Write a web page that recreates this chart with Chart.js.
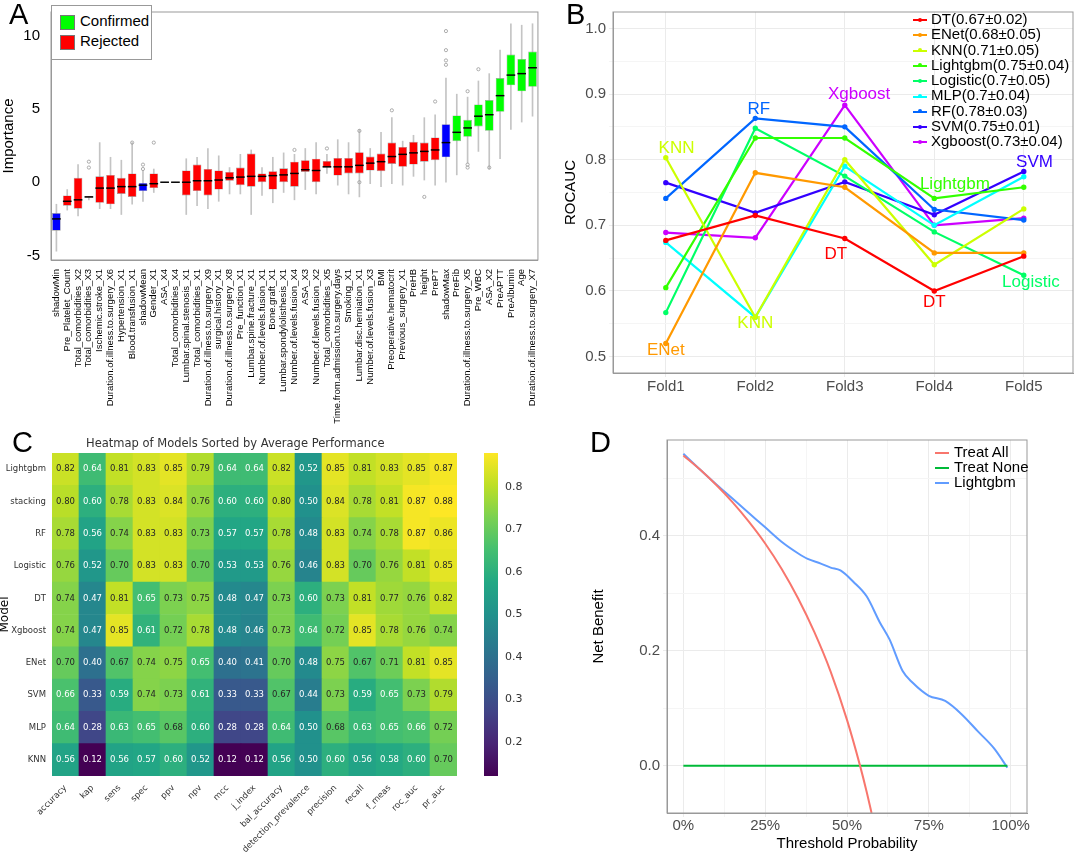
<!DOCTYPE html>
<html>
<head>
<meta charset="utf-8">
<script src="https://cdn.jsdelivr.net/npm/chart.js@4.4.1/dist/chart.umd.min.js"></script>
<style>
body { margin:0; width:1080px; height:853px; background:#fff; position:relative; overflow:hidden; font-family:"Liberation Sans", Arial, sans-serif; }
canvas { position:absolute; }
.letter { position:absolute; font-size:29px; color:#000; }
.leg { position:absolute; font-size:15px; line-height:15.3px; color:#000; }
.leg .row { white-space:nowrap; }
.sw { display:inline-block; vertical-align:middle; }
</style>
</head>
<body>
<canvas id="chartA" style="left:0;top:0" width="545" height="440"></canvas>
<canvas id="chartB" style="left:560px;top:0" width="520" height="410"></canvas>
<canvas id="chartC" style="left:-2px;top:420px" width="582" height="433"></canvas>
<canvas id="chartBar" style="left:470px;top:420px" width="110" height="433"></canvas>
<canvas id="chartD" style="left:590px;top:420px" width="490" height="433"></canvas>

<div class="letter" style="left:9px;top:-2px">A</div>
<div class="letter" style="left:566px;top:-2px">B</div>
<div class="letter" style="left:12px;top:426px">C</div>
<div class="letter" style="left:590px;top:426px">D</div>

<div style="position:absolute;left:51px;top:5px;width:101px;height:55px;border:1px solid #999;background:#fff;font-size:15px;line-height:20px;padding-top:5px;box-sizing:border-box">
  <div style="padding-left:8px"><span class="sw" style="width:13px;height:13px;background:#00ff00;border:1px solid #777;margin-right:5px"></span>Confirmed</div>
  <div style="padding-left:8px"><span class="sw" style="width:13px;height:13px;background:#ff0000;border:1px solid #777;margin-right:5px"></span>Rejected</div>
</div>
<div id="legB" class="leg" style="left:913px;top:11px"></div>
<div id="legD" class="leg" style="left:935px;top:444px;line-height:15px"></div>
<div style="position:absolute;left:86px;top:436px;font-family:'DejaVu Sans',sans-serif;font-size:11.5px;color:#333">Heatmap of Models Sorted by Average Performance</div>

<script>
// ---------- Panel A: Boruta feature importance ----------
const features = ["shadowMin","Pre_Platelet_Count","Total_comorbidities_X2","Total_comorbidities_X3","Ischemic.stroke_X1","Duration.of.illness.to.surgery_X6","Hypertension_X1","Blood.transfusion_X1","shadowMean","Gender_X1","ASA_X4","Total_comorbidities_X4","Lumbar.spinal.stenosis_X1","Total_comorbidities_X1","Duration.of.illness.to.surgery_X9","surgical.history_X1","Duration.of.illness.to.surgery_X8","Pre_function_X1","Lumbar.spine.fracture_X1","Number.of.levels.fusion_X1","Bone.graft_X1","Lumbar.spondylolisthesis_X1","Number.of.levels.fusion_X4","ASA_X3","Number.of.levels.fusion_X2","Total_comorbidities_X5","Time.from.admission.to.surgery.days","Smoking_X1","Lumbar.disc.herniation_X1","Number.of.levels.fusion_X3","BMI","Preoperative.hematocrit","Previous_surgery_X1","PreHB","height","PrePT","shadowMax","PreFib","Duration.of.illness.to.surgery_X5","Pre_WBC","ASA_X2","PreAPTT","PreAlbumin","Age","Duration.of.illness.to.surgery_X7"];
const featStatus = ["S","R","R","R","R","R","R","R","S","R","R","R","R","R","R","R","R","R","R","R","R","R","R","R","R","R","R","R","R","R","R","R","R","R","R","R","S","C","C","C","C","C","C","C","C"];
const boxQ1  = [-3.3,-1.6,-1.8,-1.05,-1.4,-1.5,-0.8,-1.0,-0.6,-0.4,-0.03,-0.03,-0.9,-0.6,-0.9,-0.5,0.1,-0.2,-0.3,0.0,-0.5,0.0,-0.3,0.7,0.0,1.0,0.45,0.6,0.6,0.8,0.75,1.25,1.05,1.2,1.4,1.5,1.7,2.8,3.1,3.8,3.5,4.8,6.6,6.2,6.5];
const boxMed = [-2.5,-1.3,-1.2,-1.0,-0.4,-0.4,-0.3,-0.3,-0.2,-0.1,0.0,0.0,0.0,0.1,0.1,0.15,0.3,0.35,0.4,0.4,0.45,0.5,0.6,0.85,0.8,1.05,1.05,1.05,1.15,1.3,1.4,1.75,1.9,2.0,2.1,2.2,2.7,3.4,3.7,4.5,4.6,5.9,7.3,7.4,7.8];
const boxQ3  = [-2.1,-0.9,0.3,-0.95,0.4,0.5,0.3,0.6,-0.05,0.6,0.03,0.03,0.8,1.2,0.9,0.8,0.7,1.0,1.95,0.6,0.75,0.95,1.4,1.5,1.6,1.45,1.65,1.65,2.05,1.75,1.95,2.7,2.4,2.75,2.7,3.05,3.95,4.55,4.25,5.3,5.6,7.1,8.7,8.4,8.9];
const boxMin = [-4.7,-1.9,-2.3,-1.2,-1.8,-1.8,-2.2,-1.5,-1.3,-0.7,0.0,0.0,-2.2,-1.6,-1.8,-1.3,-0.8,-0.8,-2.2,-0.9,-1.4,-0.7,-1.2,-0.5,-0.8,0.6,-0.2,-0.8,-1.0,-0.1,-0.3,-0.1,-0.2,0.4,0.15,-0.2,0.0,0.5,1.3,2.1,0.9,1.6,3.6,4.1,4.5];
const boxMax = [-1.5,-0.5,1.2,-1.0,2.7,1.7,1.5,2.7,0.8,0.9,0.0,0.0,1.6,1.7,2.3,1.8,1.0,1.9,2.2,1.0,1.7,2.0,1.9,2.3,2.7,1.9,2.9,2.7,3.6,2.3,3.4,4.4,2.8,3.2,4.4,4.6,7.1,6.0,5.8,6.9,7.4,9.0,10.8,10.7,10.8];
// a few outliers: [feature index, value]
const outliersA = [[3,1.0],[3,1.4],[8,0.9],[8,1.2],[7,2.7],[9,2.7],[22,2.2],[25,2.3],[28,0.0],[28,3.5],[31,4.9],[34,-1.0],[35,5.5],[36,8.0],[36,8.3],[36,9.0],[36,10.3],[38,6.2],[38,1.0],[38,1.2],[39,7.7],[40,1.0]];

const statusColor = { S:"#0000ff", R:"#ff0000", C:"#00ff00" };

new Chart(document.getElementById("chartA"), {
  type: "bar",
  data: {
    labels: features,
    datasets: [
      { type:"scatter", data: outliersA.map(o=>({x:features[o[0]], y:o[1]})), pointRadius:1.6, pointStyle:"circle",
        borderColor:"#999", backgroundColor:"rgba(0,0,0,0)", borderWidth:0.8, order:0 },
      { data: boxMin.map((v,i)=>[v, boxMax[i]]), backgroundColor:"#c4c4c4", barThickness:1, grouped:false, order:3 },
      { data: boxQ1.map((v,i)=>[v, boxQ3[i]]), backgroundColor: featStatus.map(s=>statusColor[s]), borderColor:"#999", borderWidth:0.6, borderSkipped:false, barPercentage:0.8, categoryPercentage:1, grouped:false, order:2 },
      { data: boxMed.map(v=>[v-0.05, v+0.05]), backgroundColor:"#000", barPercentage:0.8, categoryPercentage:1, grouped:false, order:1 }
    ]
  },
  options: {
    responsive:false, animation:false,
    layout: { padding: { left:0, top:5, right:7, bottom:0 } },
    plugins: { legend:{display:false}, tooltip:{enabled:false} },
    scales: {
      x: { type:"category", grid:{display:false}, border:{color:"#999"},
           ticks:{ autoSkip:false, minRotation:90, maxRotation:90, padding:1, font:{family:"Liberation Sans", size:9.5}, color:"#000" },
           afterFit: a => { a.height = 180; } },
      y: { min:-5.3, max:11.6, grid:{display:false}, border:{color:"#999"},
           afterBuildTicks: a => { a.ticks = [-5,0,5,10].map(v=>({value:v})); },
           ticks:{ font:{family:"Liberation Sans", size:15}, color:"#000" },
           title:{ display:true, text:"Importance", font:{family:"Liberation Sans", size:15}, color:"#000", padding:0 },
           afterFit: a => { a.width = 51; } }
    }
  },
  plugins: [{
    id:"frameA",
    afterDraw(c) { const a=c.chartArea, x=c.ctx; x.save(); x.strokeStyle="#999"; x.lineWidth=1; x.strokeRect(a.left, a.top, a.right-a.left, a.bottom-a.top); x.restore(); }
  }]
});

// ---------- Panel B: ROC AUC per fold ----------
const folds = ["Fold1","Fold2","Fold3","Fold4","Fold5"];
const modelsB = ["DT(0.67±0.02)","ENet(0.68±0.05)","KNN(0.71±0.05)","Lightgbm(0.75±0.04)","Logistic(0.7±0.05)","MLP(0.7±0.04)","RF(0.78±0.03)","SVM(0.75±0.01)","Xgboost(0.73±0.04)"];
const colorsB = ["#ff0000","#ff9900","#ccff00","#33ff00","#00ff66","#00ffff","#0066ff","#3300ff","#cc00ff"];
const aucDT   = [0.677,0.715,0.680,0.600,0.653];
const aucENet = [0.520,0.780,0.758,0.658,0.658];
const aucKNN  = [0.803,0.560,0.800,0.640,0.725];
const aucLgbm = [0.605,0.833,0.833,0.741,0.758];
const aucLog  = [0.567,0.848,0.775,0.690,0.624];
const aucMLP  = [0.674,0.560,0.790,0.700,0.774];
const aucRF   = [0.741,0.863,0.850,0.724,0.708];
const aucSVM  = [0.765,0.719,0.766,0.716,0.782];
const aucXgb  = [0.689,0.681,0.883,0.700,0.711];
const aucAll = [aucDT,aucENet,aucKNN,aucLgbm,aucLog,aucMLP,aucRF,aucSVM,aucXgb];
// on-plot labels: text, colour index, fold position, value
const labelsB = [["KNN",2,1.12,0.817],["RF",6,2.04,0.877],["Xgboost",8,3.16,0.900],["KNN",2,2.0,0.550],["ENet",1,1.0,0.510],["DT",0,2.9,0.656],["DT",0,4.0,0.583],["Lightgbm",3,4.23,0.762],["SVM",7,5.12,0.796],["Logistic",4,5.08,0.613]];

const gg = { family:"Liberation Sans", size:15 };
new Chart(document.getElementById("chartB"), {
  type: "line",
  data: {
    datasets: aucAll.map((arr,i)=>({
      label: modelsB[i], data: arr.map((v,j)=>({x:j+1, y:v})),
      borderColor: colorsB[i], backgroundColor: colorsB[i], borderWidth:2.2,
      pointRadius:1.6, tension:0
    }))
  },
  options: {
    responsive:false, animation:false,
    layout: { padding:{ left:0, top:10, right:7, bottom:0 } },
    plugins: { legend:{display:false}, tooltip:{enabled:false} },
    scales: {
      x: { type:"linear", min:0.41, max:5.55,
           afterBuildTicks: a => { a.ticks = [1,2,3,4,5].map(v=>({value:v})); },
           ticks:{ callback: v => folds[v-1], font:gg, color:"#4d4d4d", padding:1 },
           grid:{ color:"#ebebeb", tickLength:4 }, border:{color:"#999"},
           afterFit: a => { a.height = 37; } },
      y: { min:0.475, max:1.025,
           afterBuildTicks: a => { a.ticks = [0.5,0.55,0.6,0.65,0.7,0.75,0.8,0.85,0.9,0.95,1.0].map(v=>({value:v})); },
           ticks:{ callback: v => (Math.round(v*100)%10===0) ? v.toFixed(1) : "", font:gg, color:"#4d4d4d" },
           grid:{ color: c => (Math.round(c.tick.value*100)%10===0) ? "#ebebeb" : "#f5f5f5", tickLength:4 }, border:{color:"#999"},
           title:{ display:true, text:"ROCAUC", font:gg, color:"#000", padding:2 },
           afterFit: a => { a.width = 53; } }
    }
  },
  plugins: [{
    id:"labelsB",
    afterDatasetsDraw(c) {
      const x=c.ctx, sx=c.scales.x, sy=c.scales.y, a=c.chartArea;
      x.save();
      x.strokeStyle="#999"; x.strokeRect(a.left,a.top,a.right-a.left,a.bottom-a.top);
      x.font="17px Liberation Sans"; x.textAlign="center"; x.textBaseline="middle";
      labelsB.forEach(l => { x.fillStyle=colorsB[l[1]]; x.fillText(l[0], sx.getPixelForValue(l[2]), sy.getPixelForValue(l[3])); });
      x.restore();
    }
  }]
});
document.getElementById("legB").innerHTML = modelsB.map((m,i)=>
  `<div class="row"><span class="sw" style="width:14px;height:2px;background:${colorsB[i]};position:relative;margin-right:4px"><span style="position:absolute;left:5px;top:-1.5px;width:4px;height:4px;border-radius:2px;background:${colorsB[i]}"></span></span>${m}</div>`).join("");

// ---------- Panel C: heatmap ----------
const metrics = ["accuracy","kap","sens","spec","ppv","npv","mcc","j_index","bal_accuracy","detection_prevalence","precision","recall","f_meas","roc_auc","pr_auc"];
const modelsC = ["Lightgbm","stacking","RF","Logistic","DT","Xgboost","ENet","SVM","MLP","KNN"];
const hmLightgbm = [0.82,0.64,0.81,0.83,0.85,0.79,0.64,0.64,0.82,0.52,0.85,0.81,0.83,0.85,0.87];
const hmStacking = [0.80,0.60,0.78,0.83,0.84,0.76,0.60,0.60,0.80,0.50,0.84,0.78,0.81,0.87,0.88];
const hmRF       = [0.78,0.56,0.74,0.83,0.83,0.73,0.57,0.57,0.78,0.48,0.83,0.74,0.78,0.87,0.86];
const hmLogistic = [0.76,0.52,0.70,0.83,0.83,0.70,0.53,0.53,0.76,0.46,0.83,0.70,0.76,0.81,0.85];
const hmDT       = [0.74,0.47,0.81,0.65,0.73,0.75,0.48,0.47,0.73,0.60,0.73,0.81,0.77,0.76,0.82];
const hmXgboost  = [0.74,0.47,0.85,0.61,0.72,0.78,0.48,0.46,0.73,0.64,0.72,0.85,0.78,0.76,0.74];
const hmENet     = [0.70,0.40,0.67,0.74,0.75,0.65,0.40,0.41,0.70,0.48,0.75,0.67,0.71,0.81,0.85];
const hmSVM      = [0.66,0.33,0.59,0.74,0.73,0.61,0.33,0.33,0.67,0.44,0.73,0.59,0.65,0.73,0.79];
const hmMLP      = [0.64,0.28,0.63,0.65,0.68,0.60,0.28,0.28,0.64,0.50,0.68,0.63,0.65,0.66,0.72];
const hmKNN      = [0.56,0.12,0.56,0.57,0.60,0.52,0.12,0.12,0.56,0.50,0.60,0.56,0.58,0.60,0.70];
const hmRows = [hmLightgbm,hmStacking,hmRF,hmLogistic,hmDT,hmXgboost,hmENet,hmSVM,hmMLP,hmKNN];
const vmin = 0.12, vmax = 0.88;
const viridis = ["#440154","#482475","#414487","#355f8d","#2a788e","#21918c","#22a884","#44bf70","#7ad151","#bddf26","#fde725"];

function hex(h){ return [1,3,5].map(i=>parseInt(h.substr(i,2),16)); }
function viridisColor(v) {
  let t = Math.max(0, Math.min(1, (v-vmin)/(vmax-vmin))) * 10;
  const i = Math.min(9, Math.floor(t)), f = t - i;
  const a = hex(viridis[i]), b = hex(viridis[i+1]);
  return "rgb(" + a.map((c,k)=>Math.round(c+(b[k]-c)*f)).join(",") + ")";
}

const nRows = modelsC.length;
const smallFont = { family:"DejaVu Sans", size:8.5 };
new Chart(document.getElementById("chartC"), {
  type: "bar",
  data: {
    labels: metrics,
    // bottom of stack = last model, so the first model sits at the top
    datasets: hmRows.slice().reverse().map((row, k) => ({
      label: modelsC[nRows-1-k], data: row.map(()=>1), values: row,
      backgroundColor: row.map(viridisColor), borderWidth:0,
      barPercentage:1, categoryPercentage:1
    }))
  },
  options: {
    responsive:false, animation:false,
    layout: { padding:{ left:0, top:33, right:123, bottom:0 } },
    plugins: { legend:{display:false}, tooltip:{enabled:false} },
    scales: {
      x: { stacked:true, grid:{display:false, drawTicks:true, tickLength:4}, border:{display:false},
           ticks:{ autoSkip:false, minRotation:45, maxRotation:45, font:smallFont, color:"#333" },
           afterFit: a => { a.height = 77; } },
      y: { stacked:true, min:0, max:nRows, border:{display:false},
           grid:{ display:false, drawTicks:true, tickLength:4 },
           afterBuildTicks: a => { a.ticks = modelsC.map((m,i)=>({value:nRows-0.5-i})); },
           ticks:{ callback: v => modelsC[Math.round(nRows-0.5-v)], font:smallFont, color:"#333", padding:2 },
           title:{ display:true, text:"Model", font:{family:"DejaVu Sans", size:12}, color:"#000", padding:0 },
           afterFit: a => { a.width = 54; } }
    }
  },
  plugins: [{
    id:"cellText",
    afterDatasetsDraw(c) {
      const x=c.ctx; x.save();
      x.font="8.5px DejaVu Sans"; x.textAlign="center"; x.textBaseline="middle";
      c.data.datasets.forEach((ds, di) => {
        c.getDatasetMeta(di).data.forEach((el, j) => {
          const v = ds.values[j];
          x.fillStyle = v < 0.665 ? "#ffffff" : "#262626";
          x.fillText(v.toFixed(2), el.x, (el.y + el.base)/2);
        });
      });
      x.restore();
    }
  }]
});

// colour bar for the heatmap
const cbarTicks = [0.2,0.3,0.4,0.5,0.6,0.7,0.8];
new Chart(document.getElementById("chartBar"), {
  type: "bar",
  data: { labels:[""], datasets:[{ data:[[vmin, vmax]], barPercentage:1, categoryPercentage:1, borderWidth:0,
    backgroundColor: ctx => {
      const a = ctx.chart.chartArea; if (!a) return "#21918c";
      const g = ctx.chart.ctx.createLinearGradient(0, a.bottom, 0, a.top);
      viridis.forEach((col,i)=>g.addColorStop(i/10, col));
      return g;
    } }] },
  options: {
    responsive:false, animation:false,
    layout: { padding:{ left:14, top:33, right:42, bottom:77 } },
    plugins: { legend:{display:false}, tooltip:{enabled:false} },
    scales: {
      x: { display:false },
      y: { position:"right", min:vmin, max:vmax, grid:{display:false, drawTicks:true, tickLength:4}, border:{display:false},
           afterBuildTicks: a => { a.ticks = cbarTicks.map(v=>({value:v})); },
           ticks:{ callback: v => v.toFixed(1), font:{family:"DejaVu Sans", size:11}, color:"#333" },
           afterFit: a => { a.width = 40; } }
    }
  }
});

// ---------- Panel D: decision curve ----------
const thrAll  = [0,5,10,15,20,25,30,35,40,45,50,54,56,57.5];
const nbAll   = [0.540,0.516,0.489,0.459,0.425,0.387,0.343,0.292,0.233,0.164,0.080,0.000,-0.045,-0.082];
const thrNone = [0,99];
const nbNone  = [0,0];
const thrLgbm = [0,5,10,15,20,25,30,35,38,42,45,48,52,56,60,63,67,70,75,80,85,90,95,99];
const nbLgbm  = [0.543,0.516,0.490,0.465,0.440,0.415,0.390,0.370,0.360,0.352,0.345,0.340,0.320,0.295,0.250,0.220,0.165,0.145,0.122,0.113,0.090,0.060,0.030,-0.003];
const seriesD = [
  { name:"Treat All",  color:"#f8766d", thr:thrAll,  nb:nbAll },
  { name:"Treat None", color:"#00ba38", thr:thrNone, nb:nbNone },
  { name:"Lightgbm",   color:"#619cff", thr:thrLgbm, nb:nbLgbm }
];
new Chart(document.getElementById("chartD"), {
  type: "line",
  data: { datasets: seriesD.map(s=>({
    label:s.name, data:s.thr.map((t,i)=>({x:t, y:s.nb[i]})),
    borderColor:s.color, borderWidth:2, pointRadius:0, cubicInterpolationMode:"monotone"
  })) },
  options: {
    responsive:false, animation:false,
    layout: { padding:{ left:0, top:20, right:53, bottom:0 } },
    plugins: { legend:{display:false}, tooltip:{enabled:false} },
    scales: {
      x: { type:"linear", min:-5, max:105,
           afterBuildTicks: a => { a.ticks = [0,12.5,25,37.5,50,62.5,75,87.5,100].map(v=>({value:v})); },
           ticks:{ callback: v => (v%25===0) ? v+"%" : "", font:gg, color:"#4d4d4d", maxRotation:0, padding:0 },
           grid:{ color: c => (c.tick.value%25===0) ? "#ebebeb" : "#f5f5f5", tickLength:4 }, border:{color:"#999"},
           title:{ display:true, text:"Threshold Probability", font:gg, color:"#000", padding:{top:-2,bottom:0} },
           afterFit: a => { a.height = 40; } },
      y: { min:-0.082, max:0.567,
           afterBuildTicks: a => { a.ticks = [0,0.1,0.2,0.3,0.4,0.5].map(v=>({value:v})); },
           ticks:{ callback: v => (Math.round(v*10)%2===0) ? v.toFixed(1) : "", font:gg, color:"#4d4d4d" },
           grid:{ color: c => (Math.round(c.tick.value*10)%2===0) ? "#ebebeb" : "#f5f5f5", tickLength:4 }, border:{color:"#999"},
           title:{ display:true, text:"Net Benefit", font:gg, color:"#000", padding:0 },
           afterFit: a => { a.width = 77; } }
    }
  },
  plugins: [{
    id:"frameD",
    afterDraw(c) { const a=c.chartArea, x=c.ctx; x.save(); x.strokeStyle="#999"; x.strokeRect(a.left,a.top,a.right-a.left,a.bottom-a.top); x.restore(); }
  }]
});
document.getElementById("legD").innerHTML = seriesD.map(s=>
  `<div class="row"><span class="sw" style="width:14px;height:2px;background:${s.color};margin-right:5px"></span>${s.name}</div>`).join("");
</script>
</body>
</html>
